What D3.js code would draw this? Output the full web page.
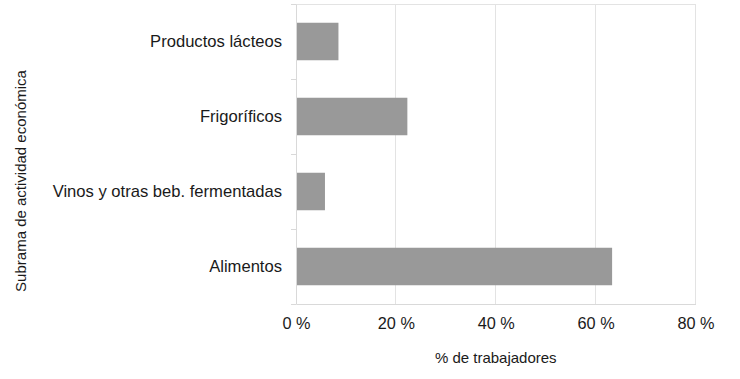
<!DOCTYPE html>
<html><head><meta charset="utf-8">
<script src="https://cdn.jsdelivr.net/npm/d3@7"></script>
<style>body{margin:0;background:#fff;}text{font-family:"Liberation Sans",Arial,sans-serif;fill:#1a1a1a;}</style>
</head><body><svg id="c" width="740" height="379"></svg>
<script>
const categories = ["Productos lácteos","Frigoríficos","Vinos y otras beb. fermentadas","Alimentos"];
const values = [8.5, 22.3, 5.8, 63.3];
const xTicks = [0,20,40,60,80];
const xTitle = "% de trabajadores";
const yTitle = "Subrama de actividad económica";

const svg = d3.select("#c");
const L=296,R=695.5,T=4,B=304;
const x = d3.scaleLinear().domain([0,80]).range([L,R]);
const y = d3.scaleBand().domain(categories).range([T,B]).paddingInner(0.5).paddingOuter(0.25);

// gridlines
svg.append("g").selectAll("line").data(xTicks.slice(1)).join("line")
  .attr("x1",d=>x(d)).attr("x2",d=>x(d)).attr("y1",T).attr("y2",B)
  .attr("stroke","#e3e3e3").attr("stroke-width",1).attr("shape-rendering","crispEdges");
svg.append("line").attr("x1",L).attr("x2",R).attr("y1",T).attr("y2",T).attr("stroke","#e3e3e3").attr("shape-rendering","crispEdges");

// bars
svg.append("g").selectAll("rect").data(values).join("rect")
  .attr("x",x(0)).attr("y",(d,i)=>y(categories[i])).attr("width",d=>x(d)-x(0))
  .attr("height",y.bandwidth()).attr("fill","#999999");

// y axis
const band = y.step();
const ya = svg.append("g").attr("transform",`translate(${L},0)`)
  .call(d3.axisLeft(y).tickSize(0).tickPadding(14));
ya.select(".domain").attr("stroke","#d9d9d9");
ya.selectAll("text").style("font-size","16.6px").style("font-family","Liberation Sans, Arial, sans-serif").attr("fill","#1a1a1a");
const bounds = d3.range(categories.length+1).map(i=>T+i*band);
svg.append("g").selectAll("line").data(bounds).join("line")
  .attr("x1",L-5).attr("x2",L).attr("y1",d=>d).attr("y2",d=>d)
  .attr("stroke","#d9d9d9").attr("shape-rendering","crispEdges");

// x axis
const xa = svg.append("g").attr("transform",`translate(0,${B})`)
  .call(d3.axisBottom(x).tickValues(xTicks).tickFormat(d=>d+" %").tickSize(0).tickPadding(13));
xa.select(".domain").attr("stroke","#d9d9d9");
xa.selectAll("text").style("font-size","16.3px").style("font-family","Liberation Sans, Arial, sans-serif").attr("fill","#1a1a1a");

svg.append("text").attr("x",(L+R)/2).attr("y",363).attr("text-anchor","middle")
  .style("font-size","15px").text(xTitle);
svg.append("text").attr("transform",`translate(26,181) rotate(-90)`).attr("text-anchor","middle")
  .style("font-size","15px").text(yTitle);
</script></body></html>
